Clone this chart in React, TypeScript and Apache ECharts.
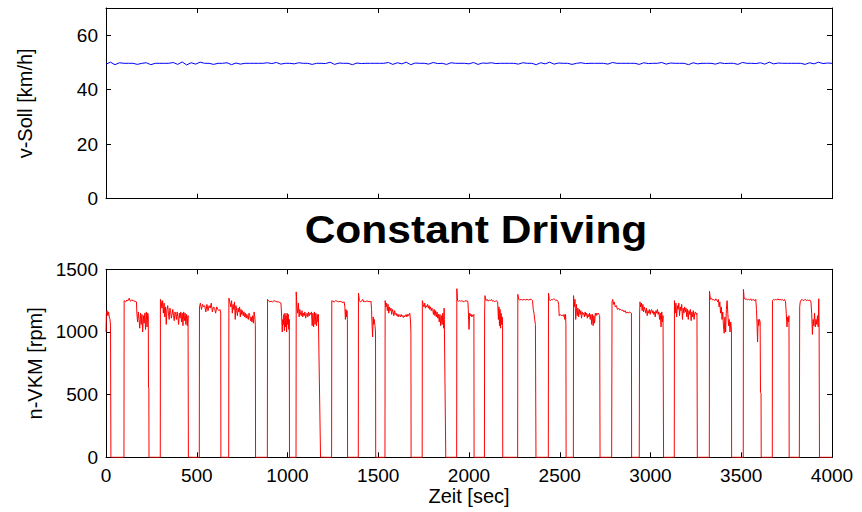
import React, { useEffect, useRef } from "react";
import * as echarts from "echarts";

// ---- Data ----
const titleText = "Constant Driving";
const speedName = "v-Soll [km/h]";
const rpmName = "n-VKM [rpm]";
const timeName = "Zeit [sec]";

const timeTicks = [0, 500, 1000, 1500, 2000, 2500, 3000, 3500, 4000];
const speedTicks = [0, 20, 40, 60];
const rpmTicks = [0, 500, 1000, 1500];

// Set speed (km/h), sampled evenly over 0..4000 s
const speedValues = [
  49.4, 50.1, 49.2, 49.9, 49.7, 49.7, 49.7, 49.3, 49.7, 49.9, 49.2, 49.7, 49.7, 49.7, 49.7, 50.0,
  49.3, 50.2, 49.1, 49.9, 49.4, 50.1, 49.7, 49.7, 49.3, 49.7, 49.7, 49.9, 49.2, 49.8, 49.4, 49.7,
  49.7, 49.7, 49.7, 49.7, 49.9, 49.6, 50.0, 49.4, 49.7, 49.7, 49.5, 49.9, 49.7, 49.7, 49.3, 49.7,
  49.7, 49.6, 50.1, 49.3, 49.8, 49.7, 49.7, 49.2, 49.8, 49.6, 49.7, 49.7, 49.7, 49.7, 49.7, 50.0,
  49.3, 49.9, 49.5, 50.1, 49.2, 49.8, 49.7, 49.7, 49.4, 50.0, 49.6, 49.7, 49.3, 49.9, 49.7, 49.7,
  49.7, 49.5, 50.0, 49.3, 49.8, 49.7, 49.9, 49.6, 49.7, 49.7, 49.7, 49.7, 49.4, 49.9, 49.7, 49.7,
  49.2, 49.9, 49.5, 50.1, 49.4, 49.8, 49.7, 49.7, 49.3, 49.7, 49.9, 49.6, 49.7, 49.7, 49.7, 49.7,
  49.4, 50.0, 49.7, 49.7, 49.7, 49.7, 49.7, 49.3, 49.9, 49.6, 49.7, 49.7, 50.0, 49.4, 49.8, 49.7,
  49.7, 49.7, 49.2, 49.9, 49.5, 49.7, 49.7, 49.7, 49.4, 49.9, 49.6, 49.7, 49.7, 49.3, 50.0, 49.7,
  49.7, 49.6, 49.9, 49.4, 50.1, 49.5, 49.8, 49.7, 49.7, 49.7, 49.7, 49.7, 49.3, 49.9, 49.5, 50.1,
  49.6, 49.8, 49.7,
];
const speedStart = 0;
const speedEnd = 4000;

// Engine speed samples [time s, rpm]
const rpmSamples: [number, number][] = [
  [0, 1000], [2, 1150], [6, 1170], [10, 1130], [14, 1160], [18, 1120], [22, 1100], [25, 1050], [27, 0],
  [99, 0], [100, 1250], [108, 1240], [115, 1255], [122, 1250], [128, 1270], [134, 1245], [142, 1255], [150, 1250],
  [160, 1245], [168, 1240], [170, 1150], [174, 1080], [178, 1160], [182, 1100], [186, 1030], [190, 1150], [194, 1060],
  [198, 1140], [202, 1000], [206, 1130], [210, 1070], [214, 1150], [218, 1020], [222, 1160], [226, 1040], [230, 1150],
  [233, 1120], [234, 560], [236, 550], [237, 0],
  [299, 0], [300, 1260], [304, 1240], [308, 1190], [312, 1250], [316, 1150], [320, 1230], [324, 1120], [328, 1200],
  [332, 1060], [336, 1180], [340, 1210], [344, 1150], [348, 1100], [352, 1190], [356, 1170], [360, 1110], [364, 1140],
  [368, 1180], [372, 1130], [376, 1090], [380, 1160], [384, 1140], [388, 1100], [392, 1160], [396, 1120], [400, 1060],
  [404, 1150], [408, 1110], [412, 1160], [416, 1080], [420, 1150], [424, 1050], [428, 1160], [432, 1090], [436, 1150],
  [440, 1060], [444, 1140], [448, 1050], [452, 1130], [454, 0],
  [514, 0], [515, 1200], [520, 1230], [526, 1180], [532, 1220], [538, 1200], [544, 1210], [550, 1160], [556, 1220],
  [562, 1170], [568, 1210], [574, 1190], [580, 1230], [586, 1160], [592, 1200], [598, 1190], [604, 1150], [610, 1200],
  [616, 1180], [622, 1170], [628, 1180], [632, 1150], [633, 0],
  [676, 0], [677, 1270], [682, 1240], [688, 1200], [692, 1250], [696, 1150], [700, 1220], [704, 1180], [708, 1240],
  [712, 1100], [716, 1210], [720, 1170], [724, 1130], [728, 1190], [732, 1160], [736, 1200], [740, 1120], [744, 1180],
  [748, 1140], [752, 1170], [756, 1130], [760, 1160], [764, 1120], [768, 1150], [772, 1110], [776, 1140], [780, 1120],
  [784, 1100], [788, 1150], [792, 1130], [796, 1090], [800, 1120], [804, 1080], [808, 1130], [812, 1070], [816, 1160],
  [820, 1120], [823, 1050], [824, 0],
  [889, 0], [890, 1260], [896, 1250], [902, 1240], [910, 1245], [918, 1240], [926, 1250], [934, 1245], [942, 1240],
  [950, 1240], [958, 1235], [964, 1230], [968, 1120], [971, 1000], [974, 1100], [977, 1060], [980, 1140], [983, 1010],
  [986, 1150], [989, 1040], [992, 1130], [995, 1000], [998, 1150], [1001, 1060], [1004, 1140], [1007, 1020],
  [1010, 1100], [1011, 0],
  [1047, 0], [1048, 1320], [1052, 1200], [1056, 1150], [1060, 1230], [1064, 1120], [1068, 1180], [1072, 1140],
  [1076, 1130], [1080, 1170], [1084, 1120], [1088, 1150], [1092, 1130], [1096, 1160], [1100, 1110], [1104, 1140],
  [1108, 1150], [1112, 1120], [1116, 1160], [1120, 1130], [1124, 1150], [1128, 1140], [1132, 1160], [1136, 1050],
  [1140, 1150], [1144, 1040], [1148, 1160], [1152, 1060], [1156, 1150], [1160, 1050], [1164, 1140], [1168, 1080],
  [1170, 1140], [1182, 0],
  [1243, 0], [1244, 1250], [1250, 1245], [1258, 1240], [1266, 1250], [1274, 1245], [1282, 1240], [1290, 1245],
  [1298, 1240], [1306, 1235], [1312, 1240], [1316, 1200], [1319, 1100], [1322, 1180], [1325, 1120], [1328, 1170],
  [1330, 1100], [1331, 0],
  [1390, 0], [1391, 1310], [1396, 1250], [1402, 1240], [1408, 1245], [1414, 1260], [1420, 1240], [1426, 1245],
  [1432, 1240], [1438, 1250], [1444, 1240], [1450, 1245], [1456, 1240], [1460, 1245], [1463, 1180], [1466, 1050],
  [1469, 960], [1472, 1120], [1475, 1060], [1478, 1100], [1482, 1050], [1485, 1000], [1486, 0],
  [1537, 0], [1538, 1250], [1542, 1200], [1546, 1230], [1550, 1170], [1554, 1220], [1558, 1150], [1562, 1200],
  [1566, 1170], [1570, 1190], [1574, 1140], [1578, 1180], [1582, 1160], [1586, 1130], [1590, 1170], [1594, 1140],
  [1598, 1150], [1602, 1130], [1606, 1140], [1610, 1120], [1614, 1140], [1618, 1130], [1622, 1120], [1626, 1140],
  [1630, 1125], [1634, 1130], [1638, 1115], [1642, 1130], [1646, 1120], [1650, 1135], [1654, 1140], [1658, 1120],
  [1662, 1140], [1666, 1130], [1670, 1145], [1674, 1150], [1678, 1080], [1680, 1000], [1681, 0],
  [1742, 0], [1743, 1250], [1748, 1220], [1752, 1200], [1756, 1230], [1760, 1190], [1764, 1210], [1768, 1200],
  [1772, 1220], [1776, 1190], [1780, 1210], [1784, 1180], [1788, 1200], [1792, 1170], [1796, 1190], [1800, 1180],
  [1804, 1140], [1808, 1180], [1812, 1130], [1816, 1170], [1820, 1120], [1824, 1160], [1828, 1110], [1832, 1140],
  [1836, 1080], [1840, 1140], [1844, 1050], [1848, 1130], [1852, 1060], [1856, 1150], [1860, 1030], [1863, 1190],
  [1864, 1100], [1872, 0],
  [1932, 0], [1933, 1345], [1937, 1250], [1942, 1245], [1948, 1250], [1954, 1245], [1960, 1250], [1966, 1245],
  [1972, 1240], [1978, 1250], [1984, 1245], [1990, 1250], [1994, 1240], [1996, 1180], [2000, 1020], [2004, 1150],
  [2008, 1130], [2012, 1140], [2016, 1120], [2020, 1135], [2024, 1130], [2027, 1140], [2028, 0],
  [2085, 0], [2086, 1150], [2088, 1290], [2094, 1250], [2100, 1260], [2106, 1245], [2112, 1255], [2118, 1250],
  [2124, 1260], [2130, 1245], [2136, 1250], [2142, 1240], [2148, 1250], [2154, 1245], [2158, 1240], [2162, 1100],
  [2165, 1200], [2168, 1050], [2171, 1180], [2174, 1030], [2177, 1150], [2180, 1060], [2183, 1120], [2185, 1050],
  [2186, 0],
  [2268, 0], [2269, 1300], [2274, 1260], [2280, 1255], [2288, 1260], [2296, 1255], [2304, 1260], [2312, 1255],
  [2320, 1260], [2328, 1255], [2336, 1260], [2344, 1260], [2350, 1250], [2354, 1180], [2358, 1150], [2362, 1100],
  [2366, 1060], [2369, 0],
  [2437, 0], [2438, 1310], [2442, 1260], [2448, 1250], [2454, 1260], [2460, 1255], [2466, 1265], [2472, 1260],
  [2478, 1250], [2484, 1255], [2490, 1245], [2494, 1220], [2497, 1130], [2502, 1140], [2508, 1130], [2514, 1135],
  [2520, 1125], [2524, 1140], [2528, 1100], [2532, 1140], [2534, 1060], [2535, 0],
  [2575, 0], [2576, 1290], [2580, 1200], [2584, 1260], [2588, 1100], [2592, 1220], [2596, 1130], [2600, 1190],
  [2604, 1120], [2608, 1180], [2612, 1140], [2616, 1170], [2620, 1110], [2624, 1160], [2628, 1140], [2632, 1150],
  [2636, 1120], [2640, 1160], [2644, 1130], [2648, 1150], [2652, 1110], [2656, 1140], [2660, 1120], [2664, 1150],
  [2668, 1100], [2672, 1140], [2676, 1060], [2680, 1140], [2684, 1050], [2688, 1130], [2692, 1070], [2696, 1150],
  [2700, 1130], [2704, 1150], [2708, 1140], [2712, 1150], [2716, 1140], [2720, 1130], [2722, 0],
  [2786, 0], [2788, 1240], [2792, 1260], [2796, 1220], [2800, 1240], [2806, 1200], [2812, 1210], [2818, 1180],
  [2824, 1190], [2830, 1175], [2836, 1180], [2842, 1170], [2848, 1175], [2854, 1160], [2860, 1170], [2866, 1150],
  [2872, 1160], [2878, 1150], [2884, 1160], [2890, 1155], [2895, 1150], [2896, 0],
  [2938, 0], [2940, 1150], [2942, 1240], [2946, 1200], [2950, 1230], [2954, 1170], [2958, 1220], [2962, 1160],
  [2966, 1200], [2970, 1180], [2974, 1150], [2978, 1190], [2982, 1130], [2986, 1170], [2990, 1150], [2994, 1180],
  [2998, 1140], [3002, 1170], [3006, 1180], [3010, 1150], [3014, 1170], [3018, 1140], [3022, 1160], [3026, 1120],
  [3030, 1170], [3034, 1150], [3038, 1180], [3042, 1140], [3046, 1160], [3050, 1100], [3054, 1150], [3058, 1040],
  [3062, 1160], [3066, 1080], [3069, 1130], [3072, 0],
  [3131, 0], [3132, 1250], [3136, 1150], [3140, 1230], [3144, 1120], [3148, 1210], [3152, 1180], [3156, 1230],
  [3160, 1130], [3164, 1200], [3168, 1170], [3172, 1220], [3176, 1100], [3180, 1190], [3184, 1150], [3188, 1200],
  [3192, 1160], [3196, 1190], [3200, 1120], [3204, 1180], [3208, 1100], [3212, 1170], [3216, 1140], [3220, 1180],
  [3224, 1090], [3228, 1160], [3232, 1120], [3236, 1170], [3240, 1100], [3244, 1150], [3248, 1160], [3252, 1140],
  [3256, 1150], [3258, 0],
  [3324, 0], [3325, 1325], [3330, 1260], [3336, 1270], [3342, 1255], [3348, 1260], [3354, 1250], [3360, 1265],
  [3366, 1250], [3370, 1240], [3374, 1260], [3378, 1200], [3382, 1240], [3386, 1150], [3390, 1200], [3394, 1100],
  [3398, 1160], [3402, 1050], [3406, 990], [3410, 1120], [3414, 1000], [3418, 1180], [3422, 1250], [3426, 1150],
  [3430, 1050], [3434, 1100], [3438, 1000], [3442, 1080], [3446, 1020], [3447, 0],
  [3511, 0], [3512, 1340], [3516, 1270], [3522, 1260], [3528, 1265], [3534, 1255], [3540, 1260], [3546, 1255],
  [3552, 1265], [3558, 1250], [3564, 1260], [3570, 1255], [3576, 1250], [3580, 1260], [3584, 1180], [3587, 1060],
  [3590, 920], [3593, 1100], [3596, 1050], [3600, 1100], [3604, 1080], [3606, 520], [3609, 510], [3610, 0],
  [3671, 0], [3672, 1250], [3678, 1260], [3684, 1255], [3690, 1260], [3696, 1255], [3702, 1265], [3708, 1255],
  [3714, 1260], [3720, 1255], [3726, 1260], [3732, 1250], [3738, 1260], [3744, 1240], [3748, 1150], [3752, 1040],
  [3756, 1120], [3760, 1080], [3763, 1130], [3764, 0],
  [3820, 0], [3822, 1200], [3825, 1240], [3830, 1255], [3836, 1260], [3842, 1250], [3848, 1255], [3854, 1260],
  [3860, 1250], [3866, 1255], [3872, 1250], [3878, 1255], [3884, 1240], [3888, 1150], [3892, 980], [3896, 1100],
  [3900, 1050], [3904, 1150], [3908, 1040], [3912, 1100], [3916, 1060], [3920, 1130], [3924, 1040], [3927, 1265],
  [3929, 1050], [3931, 0], [4000, 0],
];

const FONT = "'Liberation Sans', Arial, Helvetica, sans-serif";

export default function App() {
  const ref = useRef<HTMLDivElement>(null);

  useEffect(() => {
    if (!ref.current) return;
    const chart = echarts.init(ref.current, undefined, { renderer: "svg" });

    const step = (speedEnd - speedStart) / (speedValues.length - 1);
    const speedData = speedValues.map((v, i) => [speedStart + i * step, v]);

    const axisLineStyle = { color: "#000", width: 1 };
    const labelStyle = { color: "#000", fontSize: 19, fontFamily: FONT };
    const nameStyle = { color: "#000", fontSize: 20, fontFamily: FONT };
    const tick = { show: true, inside: true, length: 5, lineStyle: { color: "#000", width: 1 } };
    const plain = (v: number) => String(v);

    const xBase = (gridIndex: number, position: string, showLabel: boolean, extra: any = {}) => ({
      type: "value",
      gridIndex,
      position,
      min: timeTicks[0],
      max: timeTicks[timeTicks.length - 1],
      interval: timeTicks[1] - timeTicks[0],
      axisLine: { show: true, onZero: false, lineStyle: axisLineStyle },
      axisTick: tick,
      axisLabel: { show: showLabel, margin: 9, formatter: plain, ...labelStyle },
      splitLine: { show: false },
      ...extra,
    });

    const yBase = (gridIndex: number, position: string, showLabel: boolean, ticks: number[], max: number, extra: any = {}) => ({
      type: "value",
      gridIndex,
      position,
      min: ticks[0],
      max,
      interval: ticks[1] - ticks[0],
      axisLine: { show: true, onZero: false, lineStyle: axisLineStyle },
      axisTick: tick,
      axisLabel: {
        show: showLabel,
        margin: 8,
        formatter: plain,
        showMaxLabel: max === ticks[ticks.length - 1],
        ...labelStyle,
      },
      splitLine: { show: false },
      ...extra,
    });

    chart.setOption({
      animation: false,
      backgroundColor: "#fff",
      textStyle: { fontFamily: FONT },
      grid: [
        { left: 106, top: 8, width: 726, height: 190.7, containLabel: false },
        { left: 106, top: 269.3, width: 726, height: 188, containLabel: false },
      ],
      xAxis: [
        xBase(0, "bottom", false),
        xBase(0, "top", false),
        xBase(1, "bottom", true, {
          name: timeName,
          nameLocation: "middle",
          nameGap: 26,
          nameTextStyle: nameStyle,
        }),
        xBase(1, "top", false),
      ],
      yAxis: [
        yBase(0, "left", true, speedTicks, 70, {
          name: speedName,
          nameLocation: "middle",
          nameRotate: 90,
          nameGap: 71,
          nameTextStyle: nameStyle,
        }),
        yBase(0, "right", false, speedTicks, 70),
        yBase(1, "left", true, rpmTicks, rpmTicks[rpmTicks.length - 1], {
          name: rpmName,
          nameLocation: "middle",
          nameRotate: 90,
          nameGap: 61,
          nameTextStyle: nameStyle,
        }),
        yBase(1, "right", false, rpmTicks, rpmTicks[rpmTicks.length - 1]),
      ],
      graphic: [
        {
          type: "text",
          x: 476,
          y: 230,
          scaleX: 1.12,
          scaleY: 1,
          style: {
            text: titleText,
            fontSize: 38,
            fontWeight: "bold",
            fontFamily: FONT,
            fill: "#000",
            align: "center",
            verticalAlign: "middle",
          },
        },
      ],
      series: [
        {
          type: "line",
          xAxisIndex: 0,
          yAxisIndex: 0,
          data: speedData,
          showSymbol: false,
          symbol: "none",
          silent: true,
          lineStyle: { color: "#0000ff", width: 1 },
        },
        {
          type: "line",
          xAxisIndex: 2,
          yAxisIndex: 2,
          data: rpmSamples,
          showSymbol: false,
          symbol: "none",
          silent: true,
          lineStyle: { color: "#ff0000", width: 1 },
        },
      ],
    });

    return () => chart.dispose();
  }, []);

  return (
    <div
      ref={ref}
      style={{ position: "fixed", left: 0, top: 0, width: 862, height: 512, background: "#fff" }}
    />
  );
}
